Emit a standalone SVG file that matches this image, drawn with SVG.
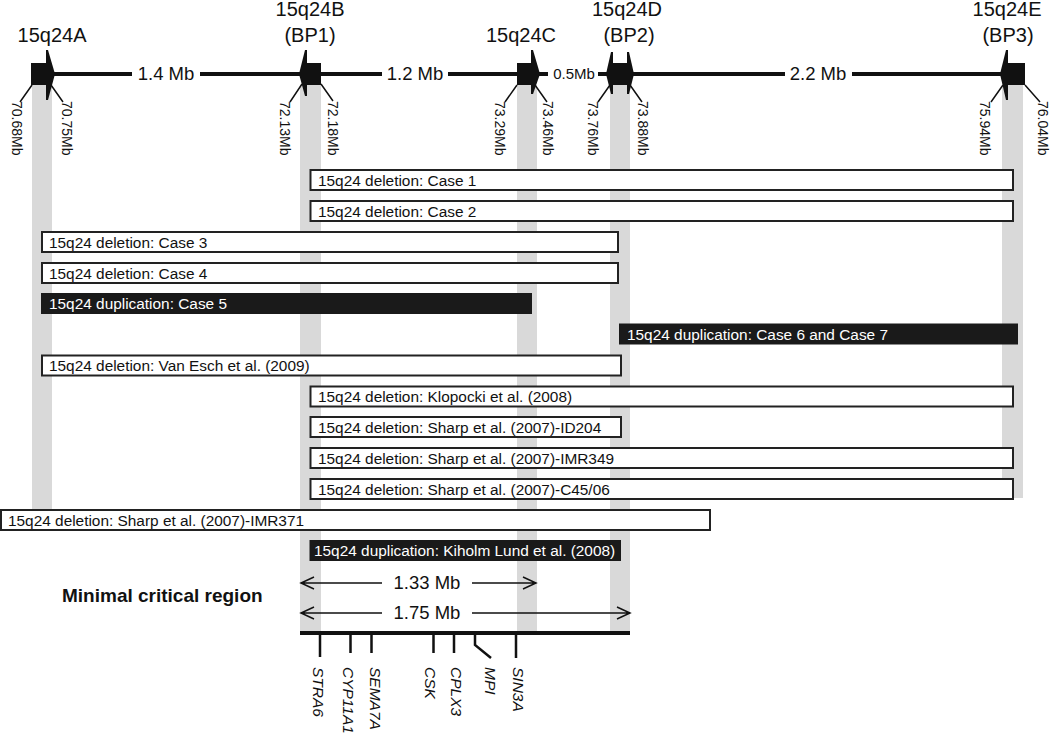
<svg xmlns="http://www.w3.org/2000/svg" width="1050" height="736" viewBox="0 0 1050 736">
<style>
text{font-family:"Liberation Sans",Arial,sans-serif;fill:#111}
.title{font-size:20px;text-anchor:middle}
.dist{font-size:18.5px;text-anchor:middle}
.pos{font-size:14px}
.gene{font-size:15.5px;font-style:italic}
.band{fill:#d9d9d9}
.blk{fill:#111}
.tick{stroke:#111;stroke-width:1.5;fill:none}
.box{fill:#fff;stroke:#222;stroke-width:2}
.dbox{fill:#1a1a1a;stroke:#1a1a1a;stroke-width:2}
.lbl{font-size:15.4px}
.dlbl{font-size:15.4px;fill:#fff}
.chrom{stroke:#111;stroke-width:4;fill:none}
.arr{stroke:#111;stroke-width:1.5;fill:none}
</style>
<g id="bands">
<rect class="band" x="32" y="85" width="20" height="425"/>
<rect class="band" x="300" y="85" width="21" height="547"/>
<rect class="band" x="517" y="85" width="20" height="547"/>
<rect class="band" x="610" y="85" width="20" height="547"/>
<rect class="band" x="1002" y="85" width="21" height="413"/>
</g>
<g id="connectors">
<path class="chrom" d="M51 74H132M200 74H382M448 74H517M537 74H548M598 74H785M852 74H1003"/>
</g>
<g id="dist-labels">
<text class="dist" x="166" y="80">1.4 Mb</text>
<text class="dist" x="415" y="80">1.2 Mb</text>
<text class="dist" x="574" y="79" style="font-size:15px">0.5Mb</text>
<text class="dist" x="818" y="80">2.2 Mb</text>
</g>
<g id="locus-A">
<text class="title" x="52" y="42">15q24A</text>
<rect class="blk" x="31" y="63" width="20" height="22"/>
<polygon class="blk" points="46,50 48,50 55,74 48,100 46,100"/>
<path class="tick" d="M32 85L20 102M51 85L63 102"/>
<text class="pos" transform="translate(12,101) rotate(90)">70.68Mb</text>
<text class="pos" transform="translate(62,101) rotate(90)">70.75Mb</text>
</g>
<g id="locus-B">
<text class="title" x="310" y="16">15q24B</text>
<text class="title" x="310" y="42">(BP1)</text>
<rect class="blk" x="305" y="63" width="16" height="22"/>
<polygon class="blk" points="307,50 305,50 299,74 305,96 307,96"/>
<path class="tick" d="M302 84L290 102M321 84L333 101"/>
<text class="pos" transform="translate(280,101) rotate(90)">72.13Mb</text>
<text class="pos" transform="translate(328,101) rotate(90)">72.18Mb</text>
</g>
<g id="locus-C">
<text class="title" x="521" y="42">15q24C</text>
<rect class="blk" x="517" y="63" width="18" height="22"/>
<polygon class="blk" points="531,50 533,50 540,74 533,94 531,94"/>
<path class="tick" d="M517 85L505 102M535 85L547 102"/>
<text class="pos" transform="translate(495,101) rotate(90)">73.29Mb</text>
<text class="pos" transform="translate(543,101) rotate(90)">73.46Mb</text>
</g>
<g id="locus-D">
<text class="title" x="627" y="16">15q24D</text>
<text class="title" x="629" y="42">(BP2)</text>
<rect class="blk" x="610" y="63" width="20" height="22"/>
<polygon class="blk" points="613,52 611,52 606,74 611,94 613,94"/>
<polygon class="blk" points="627,52 629,52 634,74 629,94 627,94"/>
<path class="tick" d="M610 85L598 102M630 85L642 102"/>
<text class="pos" transform="translate(588,101) rotate(90)">73.76Mb</text>
<text class="pos" transform="translate(638,101) rotate(90)">73.88Mb</text>
</g>
<g id="locus-E">
<text class="title" x="1007" y="16">15q24E</text>
<text class="title" x="1008" y="42">(BP3)</text>
<rect class="blk" x="1005" y="63" width="20" height="22"/>
<polygon class="blk" points="1008,50 1006,50 1000,74 1006,100 1008,100"/>
<path class="tick" d="M1003 85L991 102M1025 85L1040 102"/>
<text class="pos" transform="translate(980,101) rotate(90)">75.94Mb</text>
<text class="pos" transform="translate(1038,101) rotate(90)">76.04Mb</text>
</g>
<g id="case1"><rect class="box" x="310.5" y="170" width="702.5" height="20"/><text class="lbl" x="318" y="185.5">15q24 deletion: Case 1</text></g>
<g id="case2"><rect class="box" x="310.5" y="201" width="702.5" height="20"/><text class="lbl" x="318" y="216.5">15q24 deletion: Case 2</text></g>
<g id="case3"><rect class="box" x="42" y="232" width="576" height="20"/><text class="lbl" x="49" y="247.5">15q24 deletion: Case 3</text></g>
<g id="case4"><rect class="box" x="42" y="263" width="576" height="20"/><text class="lbl" x="49" y="278.5">15q24 deletion: Case 4</text></g>
<g id="case5"><rect class="dbox" x="42" y="294" width="489" height="19"/><text class="dlbl" x="49" y="309">15q24 duplication: Case 5</text></g>
<g id="case67"><rect class="dbox" x="620" y="324.5" width="397" height="19"/><text class="dlbl" x="627" y="340">15q24 duplication: Case 6 and Case 7</text></g>
<g id="vanesch"><rect class="box" x="42" y="355.5" width="579" height="20"/><text class="lbl" x="49" y="371">15q24 deletion: Van Esch et al. (2009)</text></g>
<g id="klopocki"><rect class="box" x="310.5" y="386.5" width="702.5" height="20"/><text class="lbl" x="318" y="402">15q24 deletion: Klopocki et al. (2008)</text></g>
<g id="id204"><rect class="box" x="310.5" y="417" width="310.5" height="20"/><text class="lbl" x="318" y="432.5">15q24 deletion: Sharp et al. (2007)-ID204</text></g>
<g id="imr349"><rect class="box" x="310.5" y="448" width="702.5" height="20"/><text class="lbl" x="318" y="463.5">15q24 deletion: Sharp et al. (2007)-IMR349</text></g>
<g id="c4506"><rect class="box" x="310.5" y="479" width="702.5" height="20"/><text class="lbl" x="318" y="494.5">15q24 deletion: Sharp et al. (2007)-C45/06</text></g>
<g id="imr371"><rect class="box" x="1" y="510" width="709" height="20"/><text class="lbl" x="8" y="525.5">15q24 deletion: Sharp et al. (2007)-IMR371</text></g>
<g id="kiholm"><rect class="dbox" x="310.5" y="541" width="309.5" height="19"/><text class="dlbl" x="314" y="556">15q24 duplication: Kiholm Lund et al. (2008)</text></g>
<g id="mcr">
<text x="62" y="602" style="font-size:19px;font-weight:bold">Minimal critical region</text>
<path class="arr" d="M301 583H382M472 583H536M314 577L301 583L314 589M523 577L536 583L523 589"/>
<text class="dist" x="427" y="589">1.33 Mb</text>
<path class="arr" d="M301 613H382M472 613H630M314 607L301 613L314 619M617 607L630 613L617 619"/>
<text class="dist" x="427" y="619">1.75 Mb</text>
<path class="chrom" d="M300 633H630"/>
</g>
<g id="genes">
<path class="tick" style="stroke-width:2.5" d="M320 633V657M350.5 633V653M371.5 633V653M433.5 633V653M454 633V653M475 633V645L491 658M516 633V658"/>
<text class="gene" transform="translate(312.5,667) rotate(90)">STRA6</text>
<text class="gene" transform="translate(342.5,667) rotate(90)">CYP11A1</text>
<text class="gene" transform="translate(369.5,667) rotate(90)">SEMA7A</text>
<text class="gene" transform="translate(424.5,667) rotate(90)">CSK</text>
<text class="gene" transform="translate(451,667) rotate(90)">CPLX3</text>
<text class="gene" transform="translate(484.5,667) rotate(90)">MPI</text>
<text class="gene" transform="translate(512.5,667) rotate(90)">SIN3A</text>
</g>
</svg>
